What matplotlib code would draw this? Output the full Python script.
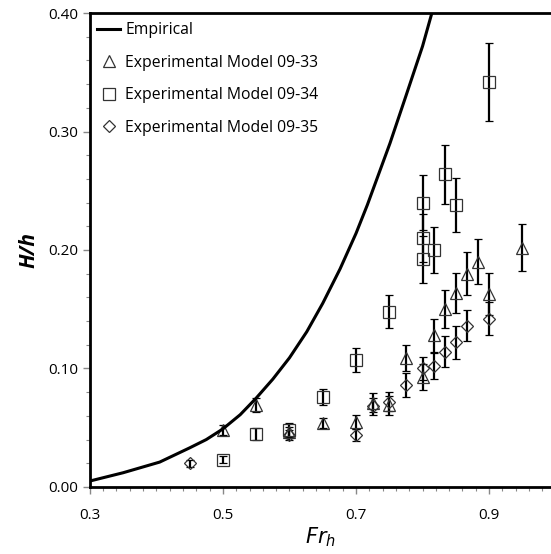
import numpy as np
import matplotlib
matplotlib.use("Agg")
import matplotlib.pyplot as plt
from matplotlib.lines import Line2D
from matplotlib.ticker import MultipleLocator, FixedLocator, FormatStrFormatter

# Empirical curve
emp_x = [0.30, 0.35, 0.405, 0.45, 0.475, 0.50, 0.526, 0.55, 0.575, 0.60, 0.626, 0.65, 0.676,
         0.70, 0.717, 0.734, 0.751, 0.775, 0.80, 0.814]
emp_y = [0.005, 0.012, 0.021, 0.033, 0.040, 0.049, 0.061, 0.075, 0.091, 0.109, 0.131, 0.155, 0.184,
         0.214, 0.238, 0.264, 0.290, 0.330, 0.372, 0.400]

# Experimental Model 09-33 (triangles)
m33_x = [0.50, 0.55, 0.60, 0.65, 0.70, 0.725, 0.75, 0.775, 0.80, 0.817, 0.833, 0.85, 0.867, 0.883, 0.90, 0.95]
m33_y = [0.048, 0.069, 0.046, 0.054, 0.055, 0.071, 0.069, 0.109, 0.093, 0.128, 0.150, 0.164, 0.180, 0.190, 0.163, 0.202]
m33_e = [0.004, 0.006, 0.005, 0.004, 0.006, 0.008, 0.008, 0.011, 0.011, 0.014, 0.016, 0.017, 0.018, 0.019, 0.018, 0.020]

# Experimental Model 09-34 (squares)
m34_x = [0.50, 0.55, 0.60, 0.65, 0.70, 0.75, 0.80, 0.80, 0.80, 0.817, 0.833, 0.85, 0.90]
m34_y = [0.023, 0.045, 0.048, 0.076, 0.107, 0.148, 0.240, 0.210, 0.192, 0.200, 0.264, 0.238, 0.342]
m34_e = [0.003, 0.005, 0.006, 0.007, 0.010, 0.014, 0.023, 0.020, 0.020, 0.019, 0.025, 0.023, 0.033]

# Experimental Model 09-35 (diamonds)
m35_x = [0.45, 0.60, 0.70, 0.725, 0.75, 0.775, 0.80, 0.817, 0.833, 0.85, 0.867, 0.90]
m35_y = [0.020, 0.044, 0.044, 0.068, 0.072, 0.086, 0.100, 0.102, 0.114, 0.122, 0.136, 0.142]
m35_e = [0.003, 0.004, 0.005, 0.007, 0.008, 0.010, 0.010, 0.011, 0.013, 0.014, 0.013, 0.014]

x_ticks = [0.3, 0.5, 0.7, 0.9]

plt.rcParams['font.family'] = ['Open Sans', 'DejaVu Sans']

fig = plt.figure(figsize=(5.51, 5.54), dpi=100)
ax = fig.add_axes([0.163, 0.121, 0.837, 0.8555])

mec = '#333333'
eb = dict(ecolor='black', elinewidth=1.6, capsize=3, capthick=1.6, mfc='none', mec=mec, mew=0.9)
ax.plot(emp_x, emp_y, color='black', lw=2.2, zorder=3, solid_joinstyle='round')
ax.errorbar(m33_x, m33_y, yerr=m33_e, fmt='^', ms=9, **eb)
ax.errorbar(m34_x, m34_y, yerr=m34_e, fmt='s', ms=9, **eb)
ax.errorbar(m35_x, m35_y, yerr=m35_e, fmt='D', ms=6.5, **eb)

ax.set_xlim(0.3, 0.993)
ax.set_ylim(0, 0.40)
ax.xaxis.set_major_locator(FixedLocator(x_ticks))
ax.xaxis.set_minor_locator(MultipleLocator(0.02))
ax.yaxis.set_major_locator(MultipleLocator(0.1))
ax.yaxis.set_minor_locator(MultipleLocator(0.02))
ax.xaxis.set_major_formatter(FormatStrFormatter('%.1f'))
ax.yaxis.set_major_formatter(FormatStrFormatter('%.2f'))
ax.tick_params(which='both', direction='out', color='#888888', labelsize=11)
ax.tick_params(which='major', length=5, width=1)
ax.tick_params(which='minor', length=3, width=0.8)
ax.tick_params(axis='x', pad=10)

for side in ['left', 'bottom', 'top']:
    ax.spines[side].set_linewidth(2)
ax.spines['right'].set_visible(False)

ax.set_xlabel(r'$\mathbf{\mathit{Fr_h}}$', fontsize=15, labelpad=2)
ax.set_ylabel('H/h', fontsize=15, fontweight='bold', style='italic', labelpad=6)

handles = [
    Line2D([], [], color='black', lw=2.2),
    Line2D([], [], ls='none', marker='^', ms=9, mfc='none', mec=mec, mew=0.9),
    Line2D([], [], ls='none', marker='s', ms=9, mfc='none', mec=mec, mew=0.9),
    Line2D([], [], ls='none', marker='D', ms=6.5, mfc='none', mec=mec, mew=0.9),
]
labels = ['Empirical', 'Experimental Model 09-33', 'Experimental Model 09-34',
          'Experimental Model 09-35']
ax.legend(handles, labels, loc='upper left', frameon=False, fontsize=11.3, labelspacing=1.05,
          handlelength=1.5, handletextpad=0.3, borderaxespad=0.2,
          bbox_to_anchor=(-0.005, 1.0))

fig.savefig('out.png', dpi=100)
